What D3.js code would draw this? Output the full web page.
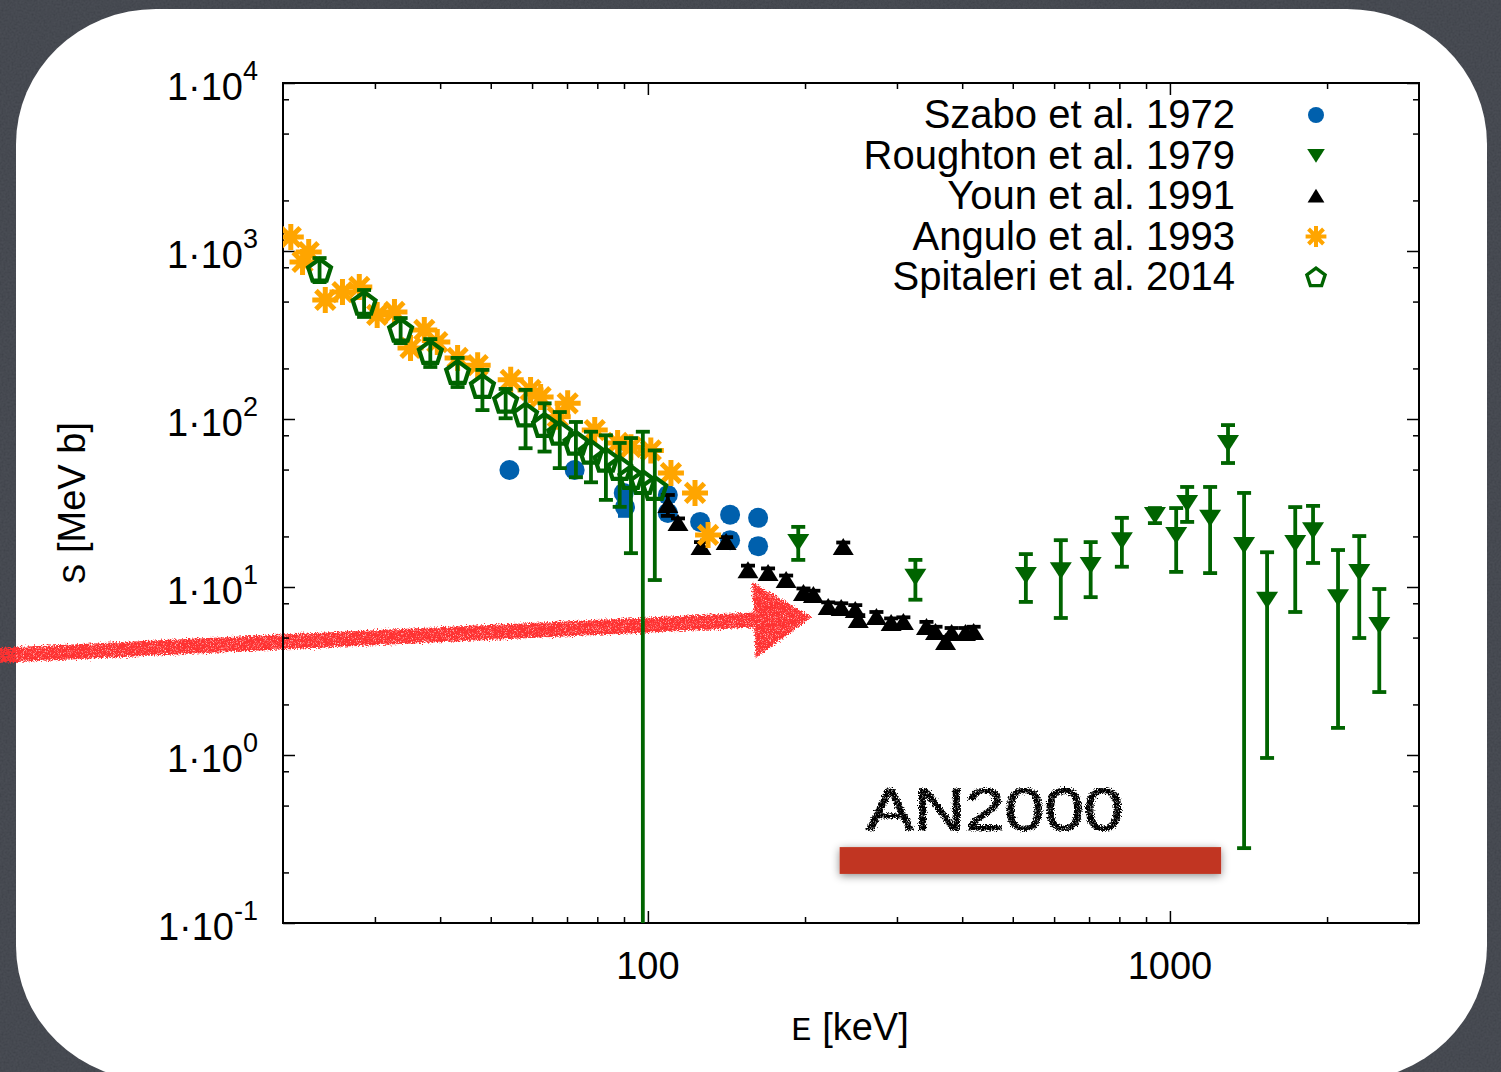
<!DOCTYPE html>
<html>
<head>
<meta charset="utf-8">
<script src="https://cdn.jsdelivr.net/npm/d3@7"></script>
<style>
  body { margin: 0; background: #3d4149; }
  svg { display: block; }
  text { font-family: "Liberation Sans", Arial, sans-serif; fill: #000; }
</style>
</head>
<body>
<svg id="chart" width="1501" height="1072"></svg>
<script>
// values: [E keV, S MeV b, S low, S high]
const szabo = [
  [54.3, 49.7, 46.5, 53.0], [72.4, 49.7, 46.5, 53.0], [89.9, 36.3, 33.5, 39.0],
  [90.4, 29.9, 26.5, 33.0], [109.2, 35.3, 32.5, 38.0], [109.2, 27.6, 25.5, 29.8],
  [125.9, 24.4, 22.6, 26.3], [143.7, 26.9, 24.8, 29.0], [143.7, 19.0, 17.5, 20.6],
  [162.6, 25.8, 23.8, 27.9], [162.6, 17.5, 16.1, 19.0]
]
const roughton = [
  [194.1, 18.5, 14.5, 22.8], [325.4, 11.5, 8.4, 14.5], [529.7, 11.8, 8.15, 15.7],
  [618, 12.6, 6.54, 19.0], [705, 13.5, 8.7, 18.5], [809, 19.0, 13.2, 25.8],
  [936, 26.8, 24.0, 29.5], [1028, 20.4, 12.3, 29.5], [1079, 31.6, 24.4, 39.4],
  [1194, 25.8, 12.1, 39.4], [1292, 72, 54.7, 92], [1387, 17.8, 0.279, 36.3],
  [1535, 8.4, 0.96, 16.1], [1738, 18.3, 7.1, 29.9], [1880, 21.8, 13.9, 30.4],
  [2099, 8.7, 1.45, 16.6], [2305, 12.3, 4.97, 20.1], [2518, 5.94, 2.37, 9.73]
]
const youn = [
  [109.2, 30.8, 26.5, 35.3], [114.2, 24.0, 22.5, 25.6], [126.4, 17.3, 16.2, 18.5],
  [141.2, 18.5, 17.3, 19.8], [155.5, 12.6, 11.8, 13.4], [169.9, 12.1, 11.3, 12.9],
  [184.0, 11.0, 10.3, 11.7], [198.6, 9.2, 8.6, 9.8], [207.5, 8.95, 8.4, 9.5],
  [221.5, 7.6, 7.1, 8.1], [234.6, 7.5, 7.0, 8.0], [236.7, 17.3, 16.3, 18.4],
  [249.6, 7.3, 6.8, 7.8], [252.9, 6.37, 5.95, 6.8], [274.0, 6.63, 6.2, 7.1],
  [292.4, 6.1, 5.7, 6.5], [308.6, 6.19, 5.8, 6.6], [341.7, 5.78, 5.4, 6.2],
  [355.6, 5.4, 5.05, 5.8], [371.7, 4.71, 4.4, 5.05], [381.8, 5.32, 4.95, 5.7],
  [405.8, 5.32, 4.95, 5.7], [420.7, 5.4, 5.05, 5.8]
]
const angulo = [
  [20.7, 1211], [21.8, 861], [22.4, 986], [24.1, 511], [26.0, 570], [28.0, 611],
  [30.3, 416], [32.7, 434], [35.1, 265], [37.3, 339], [39.5, 287], [43.2, 231],
  [47.2, 209], [54.6, 171], [59.6, 149], [62.3, 135], [67.2, 103], [70.2, 124],
  [79.1, 86], [87.5, 72], [92.8, 68], [101.3, 65], [110.7, 47.7], [123.1, 36.3],
  [130.4, 20.4]
]
const spitaleri = [
  [23.5, 771, 653, 908], [28.6, 490, 405, 586], [33.6, 339, 283, 399],
  [38.3, 250, 204, 299], [43.2, 190, 155, 231], [48.2, 157, 113, 196],
  [53.4, 128, 101, 151], [58.3, 106, 67, 149], [63.4, 92, 64, 124],
  [67.8, 82.6, 51, 110], [72.8, 72, 45, 96], [77.8, 63.7, 42, 84],
  [83.1, 57, 33, 80], [88.3, 51, 30, 72], [92.8, 45, 15.9, 77],
  [97.8, 42, 0.05, 84], [103.1, 38.8, 11.0, 65]
]

const seriesNames = ["Szabo et al. 1972", "Roughton et al. 1979", "Youn et al. 1991", "Angulo et al. 1993", "Spitaleri et al. 2014"]
const xMajor = [100, 1000]
const xMinor = [30, 40, 50, 60, 70, 80, 90, 200, 300, 400, 500, 600, 700, 800, 900, 2000]
const yMajor = [0.1, 1, 10, 100, 1000, 10000]
const yExp = ["-1", "0", "1", "2", "3", "4"]
const yMinor = [0.2, 0.5, 0.8, 2, 5, 8, 20, 50, 80, 200, 500, 800, 2000, 5000, 8000]

// annotations (energy range of AN2000 and the arrow, in data units)
const anRange = [233, 1253]
const anBand = [0.283, 0.196]
const arrowFrom = [5.5, 3.9]
const arrowTo = [206, 6.6]

const m = {left: 283, right: 1419, top: 83, bottom: 923}
const x = d3.scaleLog().domain([20, 3000]).range([m.left, m.right])
const y = d3.scaleLog().domain([0.1, 10000]).range([m.bottom, m.top])

const svg = d3.select('#chart')
const defs = svg.append('defs')
defs.html(`
  <filter id="grain" x="0" y="0" width="100%" height="100%">
    <feTurbulence type="fractalNoise" baseFrequency="0.5" numOctaves="3" stitchTiles="stitch"/>
    <feColorMatrix type="matrix" values="1 0 0 0 0  1 0 0 0 0  1 0 0 0 0  0 0 0 0 0.09"/>
  </filter>
  <filter id="chalk" x="-5%" y="-30%" width="110%" height="160%">
    <feTurbulence type="fractalNoise" baseFrequency="0.7" numOctaves="2" result="n"/>
    <feDisplacementMap in="SourceGraphic" in2="n" scale="7" xChannelSelector="R" yChannelSelector="G" result="d"/>
    <feTurbulence type="fractalNoise" baseFrequency="1.4" numOctaves="1" seed="4" result="n2"/>
    <feColorMatrix in="n2" type="matrix" values="0 0 0 0 0  0 0 0 0 0  0 0 0 0 0  0 0 0 -3 2.6" result="mask"/>
    <feComposite in="d" in2="mask" operator="in"/>
  </filter>
  <filter id="shadow" x="-10%" y="-60%" width="120%" height="220%">
    <feDropShadow dx="0" dy="2" stdDeviation="4" flood-color="#000" flood-opacity="0.45"/>
  </filter>
  <clipPath id="plotclip"><rect x="${m.left}" y="${m.top}" width="${m.right - m.left}" height="${m.bottom - m.top}"/></clipPath>
`)

// slide background + white card
svg.append('rect').attr('width', 1501).attr('height', 1072).attr('fill', '#3a3e46')
svg.append('rect').attr('width', 1501).attr('height', 1072).attr('filter', 'url(#grain)')
svg.append('rect')
  .attr('x', 16).attr('y', 9).attr('width', 1471).attr('height', 1072)
  .attr('rx', 140).attr('ry', 135).attr('fill', '#fff')

// red chalk arrow (under everything else)
{
  const p0 = [x(arrowFrom[0]), y(arrowFrom[1])], p1 = [x(arrowTo[0]), y(arrowTo[1])]
  const dx = p1[0] - p0[0], dy = p1[1] - p0[1], len = Math.hypot(dx, dy)
  const ux = dx / len, uy = dy / len, nx = -uy, ny = ux
  const hl = 58, hw = 38, sw = 7.5
  const bx = p1[0] - ux * hl, by = p1[1] - uy * hl
  const pts = [
    [p0[0] + nx * sw, p0[1] + ny * sw], [bx + nx * sw, by + ny * sw], [bx + nx * hw, by + ny * hw],
    p1, [bx - nx * hw, by - ny * hw], [bx - nx * sw, by - ny * sw], [p0[0] - nx * sw, p0[1] - ny * sw]
  ]
  svg.append('path')
    .attr('d', 'M' + pts.map(p => p.join(',')).join('L') + 'Z')
    .attr('fill', '#ff3333')
    .attr('filter', 'url(#chalk)')
}

// frame and ticks
const frame = svg.append('g')
frame.append('rect')
  .attr('x', m.left).attr('y', m.top).attr('width', m.right - m.left).attr('height', m.bottom - m.top)
  .attr('fill', 'none').attr('stroke', '#000').attr('stroke-width', 2)

function ticks(axis, vals, size, pos) {
  const g = frame.append('g').attr('transform', pos)
    .call(axis.tickValues(vals).tickSize(-size).tickFormat(''))
  g.select('.domain').remove()
  g.selectAll('line').attr('stroke', '#000').attr('stroke-width', 1.5)
}
ticks(d3.axisBottom(x), xMajor, 12, `translate(0,${m.bottom})`)
ticks(d3.axisBottom(x), xMinor, 6, `translate(0,${m.bottom})`)
ticks(d3.axisTop(x), xMajor, 12, `translate(0,${m.top})`)
ticks(d3.axisTop(x), xMinor, 6, `translate(0,${m.top})`)
ticks(d3.axisLeft(y), yMajor, 12, `translate(${m.left},0)`)
ticks(d3.axisLeft(y), yMinor, 6, `translate(${m.left},0)`)
ticks(d3.axisRight(y), yMajor, 12, `translate(${m.right},0)`)
ticks(d3.axisRight(y), yMinor, 6, `translate(${m.right},0)`)

// tick labels
frame.selectAll('.xl').data(xMajor).join('text')
  .attr('x', d => x(d)).attr('y', m.bottom + 56)
  .attr('text-anchor', 'middle').attr('font-size', 38)
  .text(d => d)

const yl = frame.selectAll('.yl').data(yMajor).join('text')
  .attr('x', 258).attr('y', d => y(d) + 17)
  .attr('text-anchor', 'end').attr('font-size', 38)
yl.append('tspan').text('1·10')
yl.append('tspan').attr('dy', -20).attr('font-size', 27).text((d, i) => yExp[i])

// axis titles
const mono = '"Liberation Mono", "DejaVu Sans Mono", monospace'
const xt = svg.append('text').attr('x', 850).attr('y', 1040).attr('text-anchor', 'middle').attr('font-size', 38)
xt.append('tspan').attr('font-family', mono).attr('font-size', 34).text('E')
xt.append('tspan').text(' [keV]')
const yt = svg.append('text').attr('transform', 'translate(85,503) rotate(-90)').attr('text-anchor', 'middle').attr('font-size', 38)
yt.append('tspan').attr('font-family', mono).attr('font-size', 34).text('S')
yt.append('tspan').text(' [MeV b]')

// markers
const green = '#006400'
function marker(g, type, color, s = 1) {
  if (type === 'circle') {
    g.append('circle').attr('r', 10 * s).attr('fill', color)
  } else if (type === 'down') {
    g.append('path').attr('d', `M${-11 * s},${-8 * s}L${11 * s},${-8 * s}L0,${9 * s}Z`).attr('fill', color)
  } else if (type === 'up') {
    g.append('path').attr('d', `M${-10.5 * s},${8 * s}L${10.5 * s},${8 * s}L0,${-9 * s}Z`).attr('fill', color)
  } else if (type === 'star') {
    const r = 13 * s, q = r * 0.72
    g.append('path')
      .attr('d', `M${-r},0L${r},0M0,${-r}L0,${r}M${-q},${-q}L${q},${q}M${-q},${q}L${q},${-q}`)
      .attr('stroke', color).attr('stroke-width', 5 * s).attr('fill', 'none')
  } else if (type === 'pent') {
    const r = 12 * s
    const pts = d3.range(5).map(k => {
      const a = -Math.PI / 2 + k * 2 * Math.PI / 5
      return [r * Math.cos(a), r * Math.sin(a) + 1 * s]
    })
    g.append('path').attr('d', 'M' + pts.map(p => p.join(',')).join('L') + 'Z')
      .attr('fill', 'none').attr('stroke', color).attr('stroke-width', 4.2 * s).attr('stroke-linejoin', 'miter')
  }
}

const plot = svg.append('g').attr('clip-path', 'url(#plotclip)')
function series(data, type, color, bars) {
  const g = plot.append('g')
  if (bars) {
    const eb = g.selectAll('.eb').data(data).join('g')
      .attr('stroke', color).attr('stroke-width', 3.8).attr('fill', 'none')
    eb.append('line').attr('x1', d => x(d[0])).attr('x2', d => x(d[0]))
      .attr('y1', d => y(d[2])).attr('y2', d => y(d[3]))
    eb.append('line').attr('x1', d => x(d[0]) - 7).attr('x2', d => x(d[0]) + 7)
      .attr('y1', d => y(d[2])).attr('y2', d => y(d[2]))
    eb.append('line').attr('x1', d => x(d[0]) - 7).attr('x2', d => x(d[0]) + 7)
      .attr('y1', d => y(d[3])).attr('y2', d => y(d[3]))
  }
  g.selectAll('.pt').data(data).join('g')
    .attr('transform', d => `translate(${x(d[0])},${y(d[1])})`)
    .each(function () { marker(d3.select(this), type, color) })
}
series(szabo, 'circle', '#0060ad', true)
series(roughton, 'down', green, true)
series(youn, 'up', '#000', true)
series(angulo, 'star', '#ffa500', false)
series(spitaleri, 'pent', green, true)

// legend
const legTypes = ['circle', 'down', 'up', 'star', 'pent']
const legColors = ['#0060ad', green, '#000', '#ffa500', green]
const leg = svg.append('g')
seriesNames.forEach((name, i) => {
  const cy = 115 + i * 40.5
  leg.append('text').attr('x', 1235).attr('y', cy + 13)
    .attr('text-anchor', 'end').attr('font-size', 40).text(name)
  marker(leg.append('g').attr('transform', `translate(1316,${cy})`), legTypes[i], legColors[i], 0.8)
})

// AN2000 annotation
svg.append('rect')
  .attr('x', x(anRange[0])).attr('width', x(anRange[1]) - x(anRange[0]))
  .attr('y', y(anBand[0])).attr('height', y(anBand[1]) - y(anBand[0]))
  .attr('fill', '#c13620').attr('filter', 'url(#shadow)')
svg.append('text')
  .attr('x', x(262)).attr('y', y(0.36))
  .attr('font-family', '"DejaVu Sans", sans-serif').attr('font-size', 60)
  .attr('textLength', 257).attr('lengthAdjust', 'spacingAndGlyphs')
  .attr('stroke', '#000').attr('stroke-width', 1)
  .attr('filter', 'url(#chalk)')
  .text('AN2000')
</script>
</body>
</html>
